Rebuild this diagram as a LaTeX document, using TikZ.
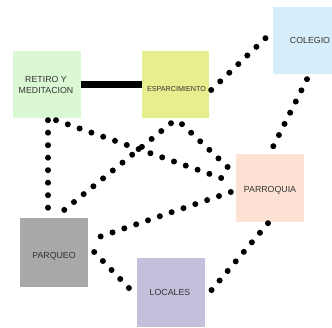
\documentclass[tikz,border=0pt]{standalone}
\usepackage{fontspec}
\setmainfont{Liberation Sans}
\usetikzlibrary{calc}
\definecolor{cret}{HTML}{DAF8D4}
\definecolor{cesp}{HTML}{E6EE8E}
\definecolor{ccol}{HTML}{D6EEFB}
\definecolor{cpar}{HTML}{FDE1D2}
\definecolor{cpq}{HTML}{A9A9A9}
\definecolor{cloc}{HTML}{C4C0DC}
\definecolor{ctxt}{HTML}{333333}
\tikzset{
  box/.style={draw=none, inner sep=0pt, minimum width=68pt, minimum height=67pt, text=ctxt, font=\fontsize{8.8}{11}\selectfont, align=center},
  dotline/.style={line width=6pt, line cap=round, dash pattern=on 0pt off 12.5pt, black},
  bar/.style={line width=6.5pt, black}
}
\begin{document}
\begin{tikzpicture}[x=1pt,y=-1pt]
\useasboundingbox (0,0) rectangle (332,327);
\node[box, fill=cret, label={[text=ctxt,font=\fontsize{8.8}{11}\selectfont,align=center,xshift=-1pt]center:RETIRO Y\\MEDITACION}] (ret) at (47,84.5) {};
\node[box, fill=cesp, minimum width=67pt, label={[text=ctxt,font=\fontsize{7.2}{9}\selectfont,xshift=1pt,yshift=-4.5pt]center:ESPARCIMIENTO}] (esp) at (175.5,84.5) {};
\node[box, fill=ccol, minimum width=59pt, label={[text=ctxt,font=\fontsize{8.8}{11}\selectfont,xshift=7.5pt]center:COLEGIO}] (col) at (302.5,40.5) {};
\node[box, fill=cpar, minimum height=68pt, label={[text=ctxt,font=\fontsize{8.8}{11}\selectfont,yshift=-2pt]center:PARROQUIA}] (par) at (270,188) {};
\node[box, fill=cpq, minimum height=69pt, label={[text=ctxt,font=\fontsize{8.8}{11}\selectfont,yshift=-3.5pt]center:PARQUEO}] (pq) at (54,252.5) {};
\node[box, fill=cloc, minimum height=69pt, label={[text=ctxt,font=\fontsize{8.8}{11}\selectfont,xshift=-1pt]center:LOCALES}] (loc) at (171,292.5) {};

\draw[bar] (ret.east) -- (esp.west);

\draw[dotline] ($(esp.east)+(2,5.5)$) -- ($(col.west)+(-4,-5.5)$);
\draw[dotline] ($(col.south)+(4.5,5)$) -- ($(par.north)+(1,-3)$);
\draw[dotline] ($(ret.south)+(1,2)$) -- ($(pq.north)+(-6,-5)$);
\draw[dotline] ($(ret.south)+(9,2)$) -- ($(par.west)+(-6,-7)$);
\draw[dotline] ($(esp.south)+(6.5,6)$) -- ($(par.west)+(-6,-19)$);
\draw[dotline] ($(esp.south)+(-4.5,5)$) -- ($(pq.north)+(3,-2)$);
\draw[dotline] ($(par.west)+(-5,4)$) -- ($(pq.east)+(5,-13.5)$);
\draw[dotline] ($(pq.east)+(6,-0.5)$) -- ($(loc.west)+(-5,-1.5)$);
\draw[dotline] ($(par.south)+(-2,1)$) -- ($(loc.east)+(3,1.5)$);
\end{tikzpicture}
\end{document}
